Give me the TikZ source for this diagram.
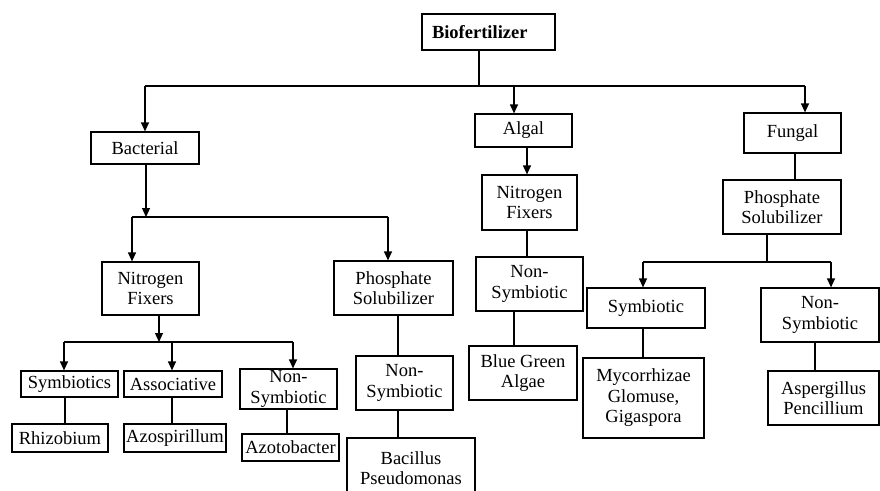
\documentclass[tikz,border=0pt]{standalone}
\usepackage{fontspec}
\setmainfont{Liberation Serif}
\usetikzlibrary{arrows.meta}
\begin{document}
\begin{tikzpicture}[x=1pt,y=-1pt,line width=1.2pt,
  box/.style={draw, inner sep=0pt, align=center,
    font=\fontsize{18.5}{20.5}\selectfont},
  arr/.style={-{Triangle[length=9pt,width=8pt]}}]
\useasboundingbox (0,0) rectangle (880,490);
\clip (0,0) rectangle (880,490);

% ---- boxes ----
\node[box, minimum width=133pt, minimum height=36pt, text width=113pt,
      inner xsep=10pt, align=left, font=\fontsize{18.5}{20.5}\selectfont\bfseries]
      (bio) at (488.5,32) {Biofertilizer};

\node[box, minimum width=108pt, minimum height=32pt] (bact)   at (145,148)   {Bacterial};
\node[box, minimum width=97pt,  minimum height=33pt] (algal)  at (523.5,130.5) {Algal};
\node[box, minimum width=97pt,  minimum height=40pt] (fungal) at (792.5,133) {Fungal};

% algal branch
\node[box, minimum width=95pt,  minimum height=55pt] (anf) at (529.5,202.5) {Nitrogen\\Fixers};
\node[box, minimum width=107pt, minimum height=54pt] (ans) at (529.5,284)   {Non-\\Symbiotic};
\node[box, minimum width=108pt, minimum height=54pt] (bga) at (523,373)     {Blue Green\\Algae};

% fungal branch
\node[box, minimum width=118pt, minimum height=54pt] (fps)  at (782,207)   {Phosphate\\Solubilizer};
\node[box, minimum width=118pt, minimum height=40pt] (fsym) at (646,308)   {Symbiotic};
\node[box, minimum width=121pt, minimum height=80pt] (myco) at (643.5,398) {Mycorrhizae\\Glomuse,\\Gigaspora};
\node[box, minimum width=118pt, minimum height=54pt] (fns)  at (820,315)   {Non-\\Symbiotic};
\node[box, minimum width=111pt, minimum height=54pt] (asp)  at (823.5,398) {Aspergillus\\Pencillium};

% bacterial branch
\node[box, minimum width=97pt,  minimum height=53pt] (bnf)  at (150.5,288.5) {Nitrogen\\Fixers};
\node[box, minimum width=119pt, minimum height=54pt] (bps)  at (393.5,288)   {Phosphate\\Solubilizer};
\node[box, minimum width=97pt,  minimum height=54pt] (bpns) at (404.5,383)   {Non-\\Symbiotic};
\node[box, minimum width=128pt, minimum height=60pt] (bac)  at (411,468)     {Bacillus\\Pseudomonas};

\node[box, minimum width=97pt,  minimum height=26pt] (sym)  at (69.5,384)  {Symbiotics};
\node[box, minimum width=98pt,  minimum height=26pt] (ass)  at (173,384)   {Associative};
\node[box, minimum width=97pt,  minimum height=40pt] (bns)  at (288.5,389) {Non-\\Symbiotic};
\node[box, minimum width=96pt,  minimum height=28pt] (rhi)  at (60,438)    {Rhizobium};
\node[box, minimum width=102pt, minimum height=28pt] (azs)  at (175,438)   {Azospirillum};
\node[box, minimum width=97pt,  minimum height=27pt] (azt)  at (290.5,447.5) {Azotobacter};

% ---- junction points ----
\coordinate (x0) at (479,0);
\coordinate (bus0) at (479,86);
\coordinate (xalg) at (514,0);
\coordinate (xfun) at (805,0);
\coordinate (bus1) at (146,217);
\coordinate (xbnf) at (132,0);
\coordinate (xbps) at (388,0);
\coordinate (bus2) at (159,342);
\coordinate (xsym) at (64,0);
\coordinate (xass) at (172,0);
\coordinate (xbns) at (293,0);
\coordinate (xanf) at (527,0);
\coordinate (xans) at (514,0);
\coordinate (xfps) at (795,0);
\coordinate (bus3) at (767,262);
\coordinate (xfsym) at (643,0);
\coordinate (xfns) at (831,0);
\coordinate (xrhi) at (65,0);
\coordinate (xazt) at (287,0);
\coordinate (xbp) at (398,0);
\coordinate (xasp) at (815,0);

% ---- connectors ----
% top level
\draw (x0 |- bio.south) -- (bus0);
\draw (bact.north |- bus0) -- (xfun |- bus0);
\draw[arr] (bact.north |- bus0) -- (bact.north);
\draw[arr] (xalg |- bus0) -- (xalg |- algal.north);
\draw[arr] (xfun |- bus0) -- (xfun |- fungal.north);

% bacterial
\draw[arr] (bus1 |- bact.south) -- (bus1);
\draw (xbnf |- bus1) -- (xbps |- bus1);
\draw[arr] (xbnf |- bus1) -- (xbnf |- bnf.north);
\draw[arr] (xbps |- bus1) -- (xbps |- bps.north);

\draw[arr] (bus2 |- bnf.south) -- (bus2);
\draw (xsym |- bus2) -- (xbns |- bus2);
\draw[arr] (xsym |- bus2) -- (xsym |- sym.north);
\draw[arr] (xass |- bus2) -- (xass |- ass.north);
\draw[arr] (xbns |- bus2) -- (xbns |- bns.north);

\draw (xrhi |- sym.south) -- (xrhi |- rhi.north);
\draw (xass |- ass.south) -- (xass |- azs.north);
\draw (xazt |- bns.south) -- (xazt |- azt.north);

\draw (xbp |- bps.south) -- (xbp |- bpns.north);
\draw (xbp |- bpns.south) -- (xbp |- bac.north);

% algal
\draw[arr] (xanf |- algal.south) -- (xanf |- anf.north);
\draw (xanf |- anf.south) -- (xanf |- ans.north);
\draw (xans |- ans.south) -- (xans |- bga.north);

% fungal
\draw (xfps |- fungal.south) -- (xfps |- fps.north);
\draw (bus3 |- fps.south) -- (bus3);
\draw (xfsym |- bus3) -- (xfns |- bus3);
\draw[arr] (xfsym |- bus3) -- (xfsym |- fsym.north);
\draw[arr] (xfns |- bus3) -- (xfns |- fns.north);
\draw (xfsym |- fsym.south) -- (xfsym |- myco.north);
\draw (xasp |- fns.south) -- (xasp |- asp.north);
\end{tikzpicture}
\end{document}
